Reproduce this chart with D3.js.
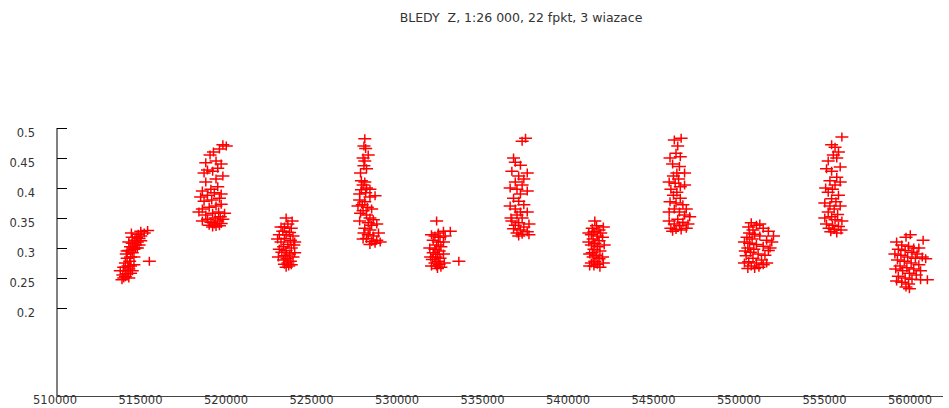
<!DOCTYPE html>
<html>
<head>
<meta charset="utf-8">
<script src="https://cdn.jsdelivr.net/npm/d3@7"></script>
<style>
  body { margin: 0; background: #fff; }
  svg { display: block; }
</style>
</head>
<body>
<div id="chart"></div>
<script>
// odczytane punkty: [easting, blad Z]
const strip1 = [[513800,0.247],[513900,0.250],[514000,0.252],[513850,0.255],[514100,0.257],[514300,0.258],[514000,0.262],[514200,0.265],[513900,0.268],[514150,0.270],[514400,0.262],[514000,0.275],[514250,0.278],[514100,0.283],[514300,0.285],[514050,0.290],[514400,0.292],[514200,0.296],[514500,0.298],[514300,0.302],[514600,0.305],[514400,0.308],[514700,0.310],[514550,0.313],[514800,0.316],[514650,0.318],[514900,0.320],[514750,0.323],[515100,0.325],[514900,0.328],[515300,0.329],[515400,0.278],[514600,0.300],[514400,0.318],[514200,0.310],
  [514300,0.270],[514500,0.285],[514100,0.295],[514700,0.300],[514900,0.312],[513700,0.262],[514500,0.272],[514200,0.250],[514800,0.305],[514350,0.325]];
const strip2 = [[519100,0.335],[519300,0.336],[519500,0.337],[518900,0.338],[519200,0.340],[519600,0.341],[519000,0.343],[519400,0.345],[518800,0.348],[519250,0.350],[519550,0.352],[518700,0.355],[519100,0.358],[519450,0.360],[518500,0.365],[518900,0.368],[519300,0.370],[519600,0.373],[518600,0.378],[519050,0.380],[519500,0.383],[518400,0.385],[518800,0.388],[519200,0.392],[519000,0.398],[519400,0.402],[518700,0.410],[519300,0.415],[518600,0.425],[519100,0.428],[519400,0.433],[519600,0.440],[518950,0.455],[519150,0.460],[519500,0.465],[519900,0.470],[519700,0.472],
  [518500,0.345],[519700,0.348],[518300,0.360],[519800,0.358],[519600,0.390],[518500,0.395],[519700,0.420],[518800,0.430],[519300,0.445],[518700,0.442]];
const strip3 = [[523400,0.350],[523500,0.340],[523300,0.335],[523700,0.333],[523200,0.328],[523600,0.326],[523000,0.322],[523400,0.322],[523800,0.320],[523300,0.316],[523650,0.313],[523100,0.310],[523500,0.306],[523250,0.302],[523700,0.300],[523400,0.296],[523150,0.293],[523600,0.290],[523350,0.287],[523800,0.285],[523450,0.282],[523250,0.280],[523650,0.278],[523500,0.275],[523300,0.273],[523700,0.272],[523550,0.270],[523400,0.268],
  [522900,0.315],[523900,0.310],[523000,0.298],[523900,0.292],[522950,0.285],[523850,0.305],[523100,0.335],[523750,0.345]];
const strip4 = [[528000,0.482],[527950,0.470],[528050,0.466],[527900,0.450],[528000,0.445],[527950,0.437],[528100,0.432],[527800,0.412],[528000,0.410],[527900,0.405],[528100,0.400],[527800,0.397],[528050,0.392],[528600,0.387],[528300,0.385],[527700,0.380],[528000,0.377],[527850,0.372],[528150,0.368],[527900,0.362],[527750,0.358],[528100,0.355],[528300,0.350],[528500,0.347],[528200,0.342],[528400,0.338],[528000,0.333],[528300,0.330],[527950,0.325],[528200,0.322],[528500,0.320],[528100,0.316],[528700,0.313],[528400,0.311],[528900,0.310],[528600,0.308],[528300,0.306],
  [527700,0.390],[528300,0.398],[527600,0.370],[528400,0.365],[527700,0.345],[528700,0.340],[527900,0.315],[528800,0.325],[528200,0.455],[527750,0.425]];
const strip5 = [[532200,0.345],[532600,0.328],[533000,0.328],[532300,0.325],[532100,0.320],[532400,0.318],[532000,0.313],[532300,0.310],[532200,0.305],[532450,0.302],[532100,0.298],[532350,0.295],[532000,0.292],[532250,0.289],[532150,0.285],[532400,0.283],[531950,0.281],[532300,0.278],[532100,0.275],[532350,0.273],[532200,0.270],[532450,0.268],[532250,0.266],[533500,0.278],
  [531800,0.300],[532600,0.310],[531850,0.285],[532600,0.290],[532650,0.275],[531900,0.270],[532700,0.320],[531900,0.322]];
const strip6 = [[537400,0.483],[537200,0.478],[536700,0.450],[536800,0.443],[537100,0.438],[537500,0.425],[537000,0.420],[536800,0.410],[537200,0.405],[536900,0.398],[537100,0.390],[536700,0.383],[537000,0.378],[537300,0.372],[536800,0.365],[537100,0.360],[536900,0.355],[537200,0.350],[536600,0.345],[537000,0.342],[536800,0.338],[537300,0.335],[536700,0.332],[537100,0.330],[537500,0.327],[536900,0.325],[537200,0.323],[537600,0.322],[537000,0.320],
  [536500,0.400],[537500,0.395],[536500,0.370],[537500,0.360],[536550,0.350],[537600,0.340],[537300,0.415],[536600,0.428]];
const strip7 = [[541450,0.345],[541550,0.337],[541300,0.333],[541700,0.330],[541400,0.327],[541800,0.325],[541250,0.322],[541600,0.320],[541900,0.318],[541350,0.315],[541700,0.312],[541450,0.308],[541250,0.305],[541600,0.302],[541400,0.298],[541750,0.295],[541300,0.292],[541550,0.288],[541350,0.285],[541700,0.282],[541450,0.278],[541250,0.275],[541600,0.273],[541400,0.270],[541750,0.268],
  [541100,0.310],[542000,0.305],[541150,0.290],[541900,0.285],[541150,0.270],[541950,0.275],[541100,0.325],[541950,0.335]];
const strip8 = [[546500,0.483],[546100,0.480],[546300,0.470],[546200,0.458],[546450,0.452],[546000,0.440],[546400,0.436],[546250,0.425],[546050,0.420],[546350,0.415],[546150,0.408],[546450,0.402],[545900,0.398],[546250,0.393],[546050,0.388],[546450,0.383],[545850,0.377],[546200,0.375],[546600,0.372],[546100,0.365],[546400,0.360],[546700,0.355],[547000,0.352],[546300,0.348],[546600,0.343],[546100,0.340],[546400,0.337],[545900,0.333],[546200,0.331],[546500,0.330],[546800,0.333],[546000,0.328],
  [545800,0.410],[546700,0.405],[545800,0.360],[546800,0.365],[545800,0.345],[546900,0.340],[546700,0.425],[545850,0.450]];
const strip9 = [[550600,0.342],[550900,0.338],[551300,0.333],[550450,0.335],[550700,0.330],[551600,0.328],[550500,0.325],[550800,0.323],[551100,0.320],[550350,0.318],[550650,0.315],[551500,0.313],[551800,0.310],[550500,0.308],[550900,0.306],[551300,0.303],[550400,0.300],[550750,0.298],[551600,0.296],[550550,0.293],[551000,0.290],[550300,0.287],[550700,0.283],[551200,0.280],[550450,0.277],[550900,0.275],[551300,0.272],[550600,0.270],[551050,0.268],[550800,0.266],[550400,0.266],
  [550200,0.310],[551900,0.320],[550250,0.295],[551400,0.288],[551500,0.275],[550200,0.275],[551100,0.340],[551700,0.300]];
const strip10 = [[555900,0.485],[555300,0.472],[555500,0.468],[555400,0.455],[555600,0.450],[555000,0.432],[555800,0.435],[555300,0.428],[555600,0.418],[555200,0.412],[555500,0.405],[555350,0.398],[555100,0.393],[555700,0.388],[555300,0.382],[555550,0.377],[555200,0.370],[555450,0.365],[555100,0.360],[555650,0.356],[555300,0.352],[555500,0.347],[555000,0.340],[555350,0.338],[555700,0.336],[555150,0.333],[555450,0.331],[555850,0.330],[555250,0.327],[555600,0.325],
  [554900,0.375],[555800,0.370],[554900,0.350],[555900,0.345],[554950,0.400],[555800,0.410],[555100,0.445],[555700,0.460]];
const strip11 = [[559900,0.322],[559650,0.318],[560650,0.313],[559400,0.305],[559800,0.303],[560100,0.300],[559200,0.298],[559600,0.296],[560000,0.293],[560300,0.290],[559350,0.288],[559750,0.285],[560200,0.283],[559150,0.280],[559550,0.278],[559950,0.275],[560400,0.272],[559300,0.270],[559700,0.267],[560100,0.265],[559450,0.262],[559850,0.258],[560250,0.255],[559200,0.253],[559600,0.250],[560000,0.248],[560900,0.247],[560500,0.247],[559400,0.243],[559800,0.240],[559650,0.235],[559850,0.232],
  [559000,0.290],[560600,0.285],[559050,0.265],[560500,0.262],[559100,0.310],[560400,0.300],[560800,0.282],[559100,0.245]];

const xTicks = [510000, 515000, 520000, 525000, 530000, 535000, 540000, 545000, 550000, 555000, 560000];
const yTicks = [0.2, 0.25, 0.3, 0.35, 0.4, 0.45, 0.5];
const title = "BLEDY  Z, 1:26 000, 22 fpkt, 3 wiazace";

const W = 949, H = 408;
const axisX = 57, axisBottom = 396;

const svg = d3.select("#chart").append("svg")
  .attr("width", W).attr("height", H)
  .style("font-family", "'DejaVu Sans', sans-serif")
  .style("font-size", "11.5px");

const x = d3.scaleLinear().domain([510000, 560000]).range([axisX, 912]);
const y = d3.scaleLinear().domain([0.2, 0.5]).range([308, 128]);

// tytul
svg.append("text")
  .attr("x", 521).attr("y", 22)
  .attr("text-anchor", "middle")
  .attr("fill", "#333")
  .style("font-size", "12.5px")
  .style("white-space", "pre")
  .attr("xml:space", "preserve")
  .text(title);

// os Y
svg.append("line")
  .attr("x1", axisX).attr("x2", axisX)
  .attr("y1", y(0.5)).attr("y2", axisBottom)
  .attr("stroke", "#000");

const yG = svg.append("g");
yG.selectAll("line").data(yTicks).enter().append("line")
  .attr("x1", axisX).attr("x2", axisX + 10)
  .attr("y1", d => Math.round(y(d)) + 0.5).attr("y2", d => Math.round(y(d)) + 0.5)
  .attr("stroke", "#000");
yG.selectAll("text").data(yTicks).enter().append("text")
  .attr("x", 35).attr("y", d => y(d) + 9)
  .attr("text-anchor", "end")
  .attr("fill", "#333")
  .text(d => String(d));

// os X
svg.append("line")
  .attr("x1", axisX).attr("x2", 943)
  .attr("y1", axisBottom + 0.5).attr("y2", axisBottom + 0.5)
  .attr("stroke", "#444");

svg.append("g").selectAll("text").data(xTicks).enter().append("text")
  .attr("x", d => x(d) - 2).attr("y", 404)
  .attr("text-anchor", "middle")
  .attr("fill", "#333")
  .text(d => String(d));

// punkty
const strips = [strip1, strip2, strip3, strip4, strip5, strip6, strip7, strip8, strip9, strip10, strip11];
const cross = "M-6.5,0H6.5M0,-4.5V4.5";

svg.append("g").selectAll("g").data(strips).enter().append("g")
  .selectAll("path").data(d => d).enter().append("path")
  .attr("transform", d => `translate(${x(d[0])},${y(d[1])})`)
  .attr("d", cross)
  .attr("fill", "none")
  .attr("stroke", "#ff0000")
  .attr("stroke-width", 1.5);
</script>
</body>
</html>
